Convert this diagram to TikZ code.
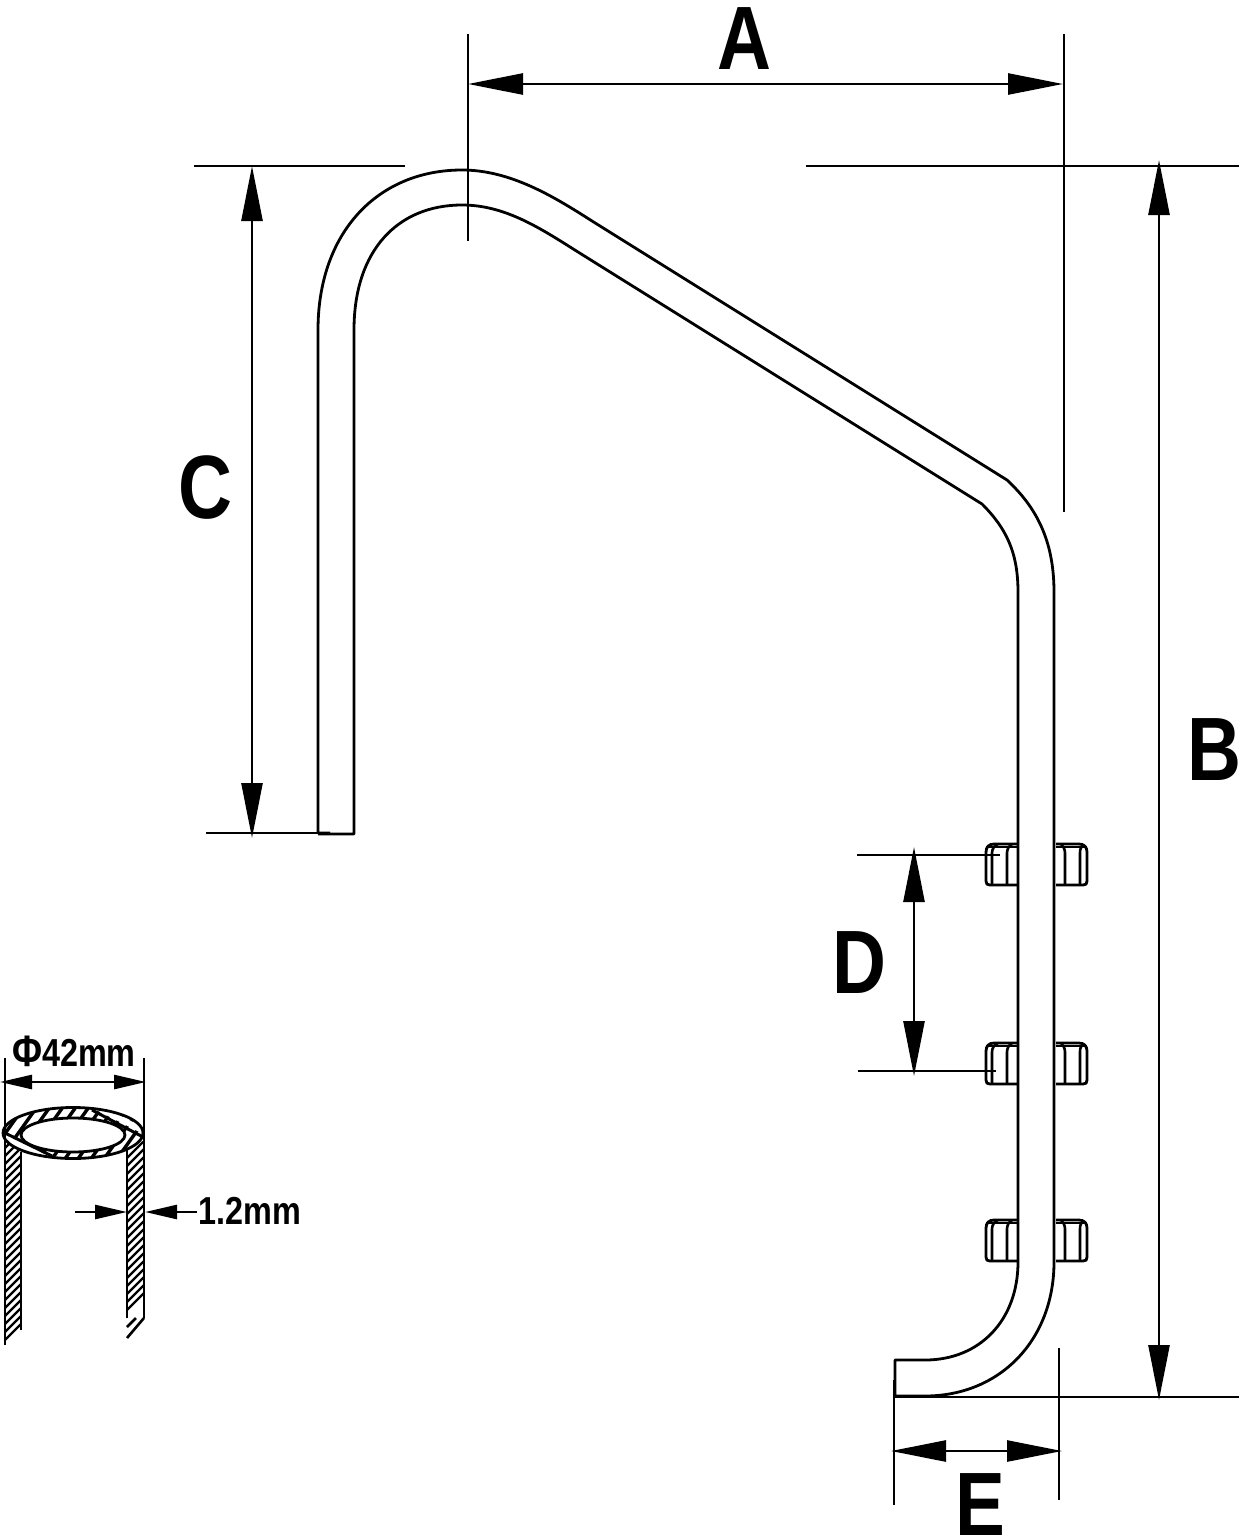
\documentclass[tikz,border=0pt]{standalone}
\usepackage{fontspec}
\newfontfamily\dimfont[FakeStretch=0.83]{Liberation Sans}
\usetikzlibrary{arrows.meta}
\tikzset{
  tube/.style={line width=2.8pt, line join=round},
  extline/.style={line width=2.6pt},
  dimline/.style={line width=2.6pt, {Triangle[length=55pt,width=21pt]}-{Triangle[length=55pt,width=21pt]}},
  smalldim/.style={line width=2.6pt, {Triangle[length=32pt,width=14pt]}-{Triangle[length=32pt,width=14pt]}},
  tipright/.style={line width=2.6pt, -{Triangle[length=32pt,width=14pt]}},
  dimlabel/.style={inner sep=0pt, anchor=base, font=\dimfont\bfseries\fontsize{90}{90}\selectfont},
  smalllabel/.style={inner sep=0pt, anchor=base, font=\dimfont\bfseries\fontsize{39}{39}\selectfont},
}
\begin{document}
\begin{tikzpicture}[x=1pt,y=-1pt]
  \useasboundingbox (0,0) rectangle (1239,1540);
  % tube
  \draw[tube] (330,833) -- (318,833) -- (318,330)
    .. controls (318,232) and (378,170) .. (462,170)
    .. controls (510,170) and (553,196) .. (592,221)
    -- (1007,480)
    .. controls (1036,507) and (1054,540) .. (1054,592)
    -- (1054,1262)
    .. controls (1054,1340) and (1000,1396) .. (925,1396)
    -- (895,1396) -- (895,1360) -- (925,1360)
    .. controls (980,1360) and (1018,1320) .. (1018,1262)
    -- (1018,592)
    .. controls (1018,552) and (1006,528) .. (982,504)
    -- (578,252)
    .. controls (540,228) and (505,205) .. (462,205)
    .. controls (398,205) and (354,250) .. (354,330)
    -- (354,834) -- (318,834);
  % nuts
  \foreach \nuty in {844,1043,1220}{
    \begin{scope}[yshift=-\nuty pt]
      \draw[tube] (1018,0) -- (994,0) .. controls (989,0) and (986,3) .. (986,8) -- (986,37)
        .. controls (986,40) and (987,41) .. (990,41) -- (1018,41);
      \draw[tube] (1056,0) -- (1079,0) .. controls (1084,0) and (1087,3) .. (1087,8) -- (1087,37)
        .. controls (1087,40) and (1086,41) .. (1083,41) -- (1056,41);
      \draw[extline] (986,3) -- (1018,3) (1056,3) -- (1087,3);
      \draw[extline] (992,41) -- (992,9) .. controls (992,5) and (994,2) .. (998,0)
        (1007,41) -- (1007,9) .. controls (1007,5) and (1009,2) .. (1012,0);
      \draw[extline] (1065,41) -- (1065,9) .. controls (1065,5) and (1063,2) .. (1061,0)
        (1080,41) -- (1080,9) .. controls (1080,5) and (1081,2) .. (1084,1);
    \end{scope}
  }
  % dimension coordinates
  \coordinate (aL) at (468,84);
  \coordinate (aR) at (1063,84);
  \coordinate (bT) at (1159,160);
  \coordinate (bB) at (1159,1400);
  \coordinate (cT) at (252,166);
  \coordinate (cB) at (252,838);
  \coordinate (dT) at (914,847);
  \coordinate (dB) at (914,1076);
  \coordinate (eL) at (891,1451);
  \coordinate (eR) at (1062,1451);
  \draw[dimline] (aL) -- (aR);
  \draw[dimline] (bT) -- (bB);
  \draw[dimline] (cT) -- (cB);
  \draw[dimline] (dT) -- (dB);
  \draw[dimline] (eL) -- (eR);
  \draw[extline] (468,34) -- (468,241);
  \draw[extline] (1064,34) -- (1064,512);
  \draw[extline] (194,166) -- (405,166);
  \draw[extline] (806,166) -- (1239,166);
  \draw[extline] (206,833) -- (330,833);
  \draw[extline] (857,855) -- (1000,855);
  \draw[extline] (858,1071) -- (996,1071);
  \draw[extline] (895,1397) -- (1239,1397);
  \draw[extline] (894,1380) -- (894,1505);
  \draw[extline] (1059,1348) -- (1059,1500);
  \node[dimlabel] (labelA) at (744,69) {A};
  \node[dimlabel] (labelB) at (1214,780) {B};
  \node[dimlabel] (labelC) at (205,518) {C};
  \node[dimlabel] (labelD) at (859,993) {D};
  \node[dimlabel] (labelE) at (980,1535) {E};
  % pipe section
  \begin{scope}
    \clip (73,1133) ellipse [x radius=70, y radius=25.5];
    \foreach \hatchx in {-60,-47,...,220}{
      \draw[line width=3.4pt] (\hatchx,1170) -- ++(50,-70);
    }
    \draw[white, line width=6pt] (3,1137) -- (50,1160);
    \draw[white, line width=6pt] (95,1106) -- (146,1132);
    \draw[line width=3pt] (3,1132) -- (52,1156);
    \draw[line width=3pt] (92,1110) -- (143,1137);
  \end{scope}
  \draw[tube] (73,1133) ellipse [x radius=70, y radius=25.5];
  \draw[tube, fill=white] (73,1135) ellipse [x radius=52, y radius=17];
  \begin{scope}
    \clip (5,1140) -- (21,1152) -- (21,1326) -- (5,1343) -- cycle;
    \foreach \hatchy in {1140,1148,...,1360}{
      \draw[line width=2.2pt] (5,\hatchy) -- ++(16,-16);
    }
  \end{scope}
  \begin{scope}
    \clip (127,1152) -- (144,1140) -- (144,1318) -- (127,1338) -- cycle;
    \foreach \hatchy in {1150,1158,...,1310}{
      \draw[line width=2.2pt] (127,\hatchy) -- ++(17,-17);
    }
  \end{scope}
  \draw[extline] (5,1058) -- (5,1345);
  \draw[extline] (21,1152) -- (21,1330);
  \draw[extline] (127,1150) -- (127,1318);
  \draw[extline] (144,1058) -- (144,1318);
  \draw[extline] (144,1318) -- (127,1338) (127,1327) -- (136,1318);
  \coordinate (wL) at (0,1082);
  \coordinate (wR) at (146,1082);
  \coordinate (tL) at (75,1212);
  \coordinate (tR) at (197,1212);
  \coordinate (tInner) at (127,1212);
  \coordinate (tOuter) at (145,1212);
  \draw[smalldim] (wL) -- (wR);
  \draw[tipright] (tL) -- (tInner);
  \draw[tipright] (tR) -- (tOuter);
  \node[smalllabel] (labelPhi) at (74,1066) {\fontsize{44}{44}\selectfont Φ\fontsize{39}{39}\selectfont 42mm};
  \node[smalllabel] (labelWall) at (250,1224) {1.2mm};
\end{tikzpicture}
\end{document}
